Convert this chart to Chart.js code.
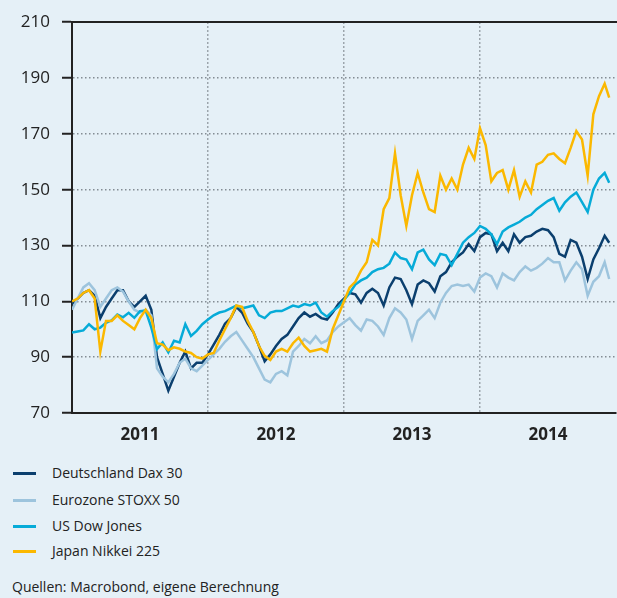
<!DOCTYPE html>
<html>
<head>
<meta charset="utf-8">
<script src="https://cdn.jsdelivr.net/npm/chart.js@4/dist/chart.umd.min.js"></script>
<style>
  body { margin: 0; background: #e5f0f7; font-family: "Open Sans", sans-serif; color: #222; }
  #wrap { position: relative; width: 617px; height: 598px; overflow: hidden; }
  #box { position: absolute; left: 0; top: 0; width: 617px; height: 455px; }
  .row { position: absolute; left: 0; height: 20px; white-space: nowrap; font-size: 14px; }
  .row i { position: absolute; left: 13px; top: 9px; width: 23px; height: 3px; }
  .row span { position: absolute; left: 52px; top: 0; line-height: 20px; }
  #src { position: absolute; left: 12px; top: 577px; font-size: 14px; line-height: 20px; white-space: nowrap; }
</style>
</head>
<body>
<div id="wrap">
  <div id="box"><canvas id="chart"></canvas></div>
  <div id="legend"></div>
  <div id="src">Quellen: Macrobond, eigene Berechnung</div>
</div>
<script>
// x positions: months since Jan 2011 (half-month steps)
const months = [
  0, 0.5, 1, 1.5, 2, 2.5, 3, 3.5, 4, 4.5, 5, 5.5, 6, 6.5, 7, 7.5, 8, 8.5, 9, 9.5, 10, 10.5, 11, 11.5,
  12, 12.5, 13, 13.5, 14, 14.5, 15, 15.5, 16, 16.5, 17, 17.5, 18, 18.5, 19, 19.5, 20, 20.5, 21, 21.5, 22, 22.5, 23, 23.5,
  24, 24.5, 25, 25.5, 26, 26.5, 27, 27.5, 28, 28.5, 29, 29.5, 30, 30.5, 31, 31.5, 32, 32.5, 33, 33.5, 34, 34.5, 35, 35.5,
  36, 36.5, 37, 37.5, 38, 38.5, 39, 39.5, 40, 40.5, 41, 41.5, 42, 42.5, 43, 43.5, 44, 44.5, 45, 45.5, 46, 46.5, 47, 47.4
];

const dax = [
  109, 111, 113, 114, 112, 104, 108, 111, 114, 114, 110, 108, 110, 112, 107, 90, 84, 78, 83, 88, 92, 86, 88, 88,
  91, 94.5, 98, 102, 104, 108, 106, 102, 99, 94, 88.5, 91, 94, 96.5, 98, 101, 104, 106, 104.5, 105.5, 104, 103.5, 106, 109,
  111, 113, 112.5, 109.5, 113, 114.5, 113, 108.5, 115, 118.5, 118, 114, 109, 116, 117.5, 116.5, 113.5, 119, 120.5, 124, 126, 127.5, 130.5, 128,
  133, 134.5, 134, 128, 131, 128, 134, 131, 133, 133.5, 135, 136, 135.5, 133, 127, 126, 132, 131, 126, 118, 125, 129, 133.5, 131
];

const stoxx = [
  107, 111, 115, 116.5, 114, 108, 111, 114, 115, 113.5, 110, 107, 106, 107, 105, 86, 83, 81, 84, 88, 89.5, 86, 85, 87,
  89, 91, 93, 95.5, 97.5, 99, 96, 93, 90, 86, 82, 81, 84, 85, 83.5, 92, 94, 96.5, 95, 97.5, 95, 96, 99, 101,
  102.5, 104, 101.5, 99.5, 103.5, 103, 101, 98, 104, 107.5, 106, 103.5, 96.5, 103, 105, 107, 104, 109.5, 113, 115.5, 116, 115.5, 116, 113.5,
  118.5, 120, 119, 115, 120, 118.5, 117.5, 120.5, 122.5, 121, 122, 123.5, 125.5, 124, 124, 117.5, 121, 124, 121.5, 112, 117, 119, 124, 118
];

const dow = [
  98.8, 99.2, 99.6, 101.8, 100, 100.6, 102.3, 103.2, 105.3, 104.3, 105.9, 104.1, 106.5, 106.7, 100.6, 92.9, 95.3, 91.7, 95.9, 95.3, 101.8, 97.6, 99.4, 101.8,
  103.5, 105, 106, 106.5, 107.5, 108.5, 107.5, 108, 108.5, 105, 104, 106, 106.5, 106.5, 107.5, 108.5, 108, 109, 108.5, 109.5, 106, 104.5, 106.5, 108,
  110.5, 113, 116, 117.5, 118.5, 120.5, 121.5, 122, 123.5, 127.5, 125.5, 125, 121.5, 127.5, 128.5, 125, 123, 127, 126.5, 123, 127, 131, 133, 134.5,
  137, 136, 134, 130.5, 135, 136.5, 137.5, 138.5, 140, 141, 143, 144.5, 146, 147, 142.5, 145.5, 147.5, 149, 145.5, 142, 150, 154, 156, 152.5
];

const nikkei = [
  110, 111, 113, 114, 111, 92, 103, 103, 105, 103, 101.5, 100, 104, 107, 104, 95, 94.5, 92.5, 93.5, 93, 92, 91.5, 90, 89.5,
  91, 91.5, 96, 100, 104, 108.5, 108, 103, 99, 94, 90.5, 89, 92, 93, 92, 95, 97, 94, 92, 92.5, 93, 92, 100, 105,
  110, 115, 117, 121, 124, 132, 130, 143, 147, 163, 148, 137, 148, 156, 149, 143, 142, 155, 150, 154, 150, 159, 165, 161,
  172, 166, 153, 156, 157, 150, 157, 147.5, 153, 149, 159, 160, 162.5, 163, 161, 159.5, 165, 171, 168, 155, 177, 183.5, 188, 183
];

const years = ['2011', '2012', '2013', '2014'];
const yTicks = [70, 90, 110, 130, 150, 170, 190, 210];

const series = [
  { label: 'Deutschland Dax 30', values: dax, color: '#0b3f6e', order: 3 },
  { label: 'Eurozone STOXX 50', values: stoxx, color: '#9dc4dd', order: 2 },
  { label: 'US Dow Jones', values: dow, color: '#06abd8', order: 1 },
  { label: 'Japan Nikkei 225', values: nikkei, color: '#fbb800', order: 0 }
];

const gridCol = '#848c94';

new Chart(document.getElementById('chart'), {
  type: 'line',
  data: {
    datasets: series.map(s => ({
      label: s.label,
      data: months.map((m, i) => ({ x: m, y: s.values[i] })),
      borderColor: s.color,
      borderWidth: 2.5,
      pointRadius: 0,
      tension: 0,
      order: s.order
    }))
  },
  options: {
    responsive: true,
    maintainAspectRatio: false,
    animation: false,
    layout: { padding: { top: 17, right: 1, left: 0, bottom: 0 } },
    plugins: { legend: { display: false }, tooltip: { enabled: false } },
    scales: {
      x: {
        type: 'linear', min: 0, max: 48,
        afterBuildTicks: a => { a.ticks = [6, 12, 18, 24, 30, 36, 42].map(v => ({ value: v })); },
        afterFit: a => { a.height = 42; },
        grid: {
          color: c => (c.tick && c.tick.value % 12 === 0) ? gridCol : 'transparent',
          lineWidth: 1.5, drawTicks: false
        },
        border: { display: true, color: '#222', width: 2, dash: [1.5, 2.5] },
        ticks: {
          padding: 12, autoSkip: false, maxRotation: 0, color: '#222',
          font: { size: 17, weight: 'bold', family: 'Open Sans' },
          callback: v => v % 12 === 6 ? years[(v - 6) / 12] : ''
        }
      },
      xTop: {
        type: 'linear', position: 'top', min: 0, max: 48,
        ticks: { display: false },
        grid: { display: false },
        border: { display: true, color: '#222', width: 2 },
        afterFit: a => { a.height = 0; }
      },
      y: {
        min: 70, max: 210,
        afterBuildTicks: a => { a.ticks = yTicks.map(v => ({ value: v })); },
        afterFit: a => { a.width = 72; },
        grid: {
          color: c => (c.tick && (c.tick.value === 210 || c.tick.value === 70)) ? 'transparent' : gridCol,
          lineWidth: 1.5, tickLength: 10, tickColor: '#222', tickWidth: 2, tickBorderDash: []
        },
        border: { color: '#222', width: 2, dash: [1.5, 2.5] },
        ticks: { padding: 12, color: '#222', font: { size: 17, family: 'Open Sans' } }
      }
    }
  }
});

// legend below the chart
const legend = document.getElementById('legend');
const rowTops = [463, 490, 516, 541];
series.forEach((s, i) => {
  const row = document.createElement('div');
  row.className = 'row';
  row.style.top = rowTops[i] + 'px';
  row.innerHTML = '<i style="background:' + s.color + '"></i><span>' + s.label + '</span>';
  legend.appendChild(row);
});
</script>
</body>
</html>
